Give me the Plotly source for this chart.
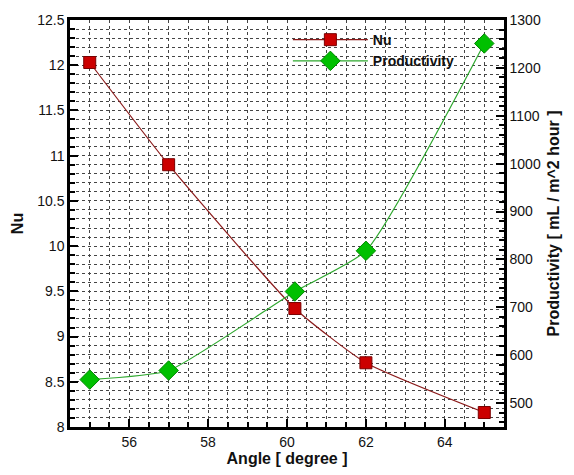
import plotly.graph_objects as go

angle = [55, 57, 60.2, 62, 65]
nu = [12.03, 10.9, 9.31, 8.71, 8.16]
productivity = [549, 568, 733, 818, 1251]

fig = go.Figure()
fig.add_trace(go.Scatter(
    x=angle, y=nu, name="<b>Nu</b>", mode="lines+markers",
    line=dict(color="#8B1A1A", width=1.2, shape="spline", smoothing=0.5),
    marker=dict(symbol="square", size=12, color="#CC0000", line=dict(color="#7A0000", width=1)),
    yaxis="y"))
fig.add_trace(go.Scatter(
    x=angle, y=productivity, name="<b>Productivity</b>", mode="lines+markers",
    line=dict(color="#2EA82E", width=1.2, shape="spline", smoothing=0.5),
    marker=dict(symbol="diamond", size=15, color="#00C000", line=dict(color="#008800", width=1)),
    yaxis="y2"))

gridc = "#444444"
fnt = dict(family="Liberation Sans, Arial, sans-serif", size=13, color="#111")

fig.update_layout(
    width=574, height=475,
    margin=dict(l=70, r=70, t=16, b=42),
    plot_bgcolor="white", paper_bgcolor="white",
    font=fnt,
    showlegend=True,
    legend=dict(x=0.502, y=0.99, xanchor="left", yanchor="top",
                bgcolor="rgba(0,0,0,0)", itemwidth=75, tracegroupgap=0,
                font=dict(family="Liberation Sans, Arial, sans-serif", size=14, color="#111")),
    xaxis=dict(
        range=[54.5, 65.5], dtick=2, tick0=56,
        showline=True, linewidth=2.5, linecolor="black", mirror=True,
        ticks="inside", ticklen=8, tickwidth=2, tickcolor="black",
        showgrid=True, gridcolor=gridc, griddash="dot", gridwidth=1,
        minor=dict(dtick=0.5, tick0=56, ticks="inside", ticklen=5, tickwidth=1.5, tickcolor="black",
                   showgrid=True, gridcolor=gridc, griddash="dot", gridwidth=1),
        zeroline=False,
        title=dict(text="<b>Angle [ degree ]</b>", font=dict(size=16), standoff=2),
        tickfont=dict(size=14)),
    yaxis=dict(
        range=[8, 12.5], dtick=0.5, tick0=8,
        showline=True, linewidth=2.5, linecolor="black", mirror=False,
        ticks="inside", ticklen=8, tickwidth=2, tickcolor="black",
        showgrid=True, gridcolor=gridc, griddash="dot", gridwidth=1,
        minor=dict(dtick=0.1, tick0=8, ticks="inside", ticklen=5, tickwidth=1.5, tickcolor="black",
                   showgrid=True, gridcolor=gridc, griddash="dot", gridwidth=1),
        zeroline=False,
        title=dict(text="<b>Nu</b>", font=dict(size=16), standoff=10),
        tickfont=dict(size=14)),
    yaxis2=dict(
        range=[450, 1300], dtick=100, tick0=500,
        overlaying="y", side="right",
        showline=True, linewidth=2.5, linecolor="black",
        ticks="inside", ticklen=8, tickwidth=2, tickcolor="black",
        showgrid=False,
        minor=dict(dtick=20, tick0=500, ticks="inside", ticklen=5, tickwidth=1.5, tickcolor="black", showgrid=False),
        zeroline=False,
        title=dict(text="<b>Productivity [ mL / m^2 hour ]</b>", font=dict(size=16), standoff=8),
        tickfont=dict(size=14)),
)

fig.write_html("out.html")
